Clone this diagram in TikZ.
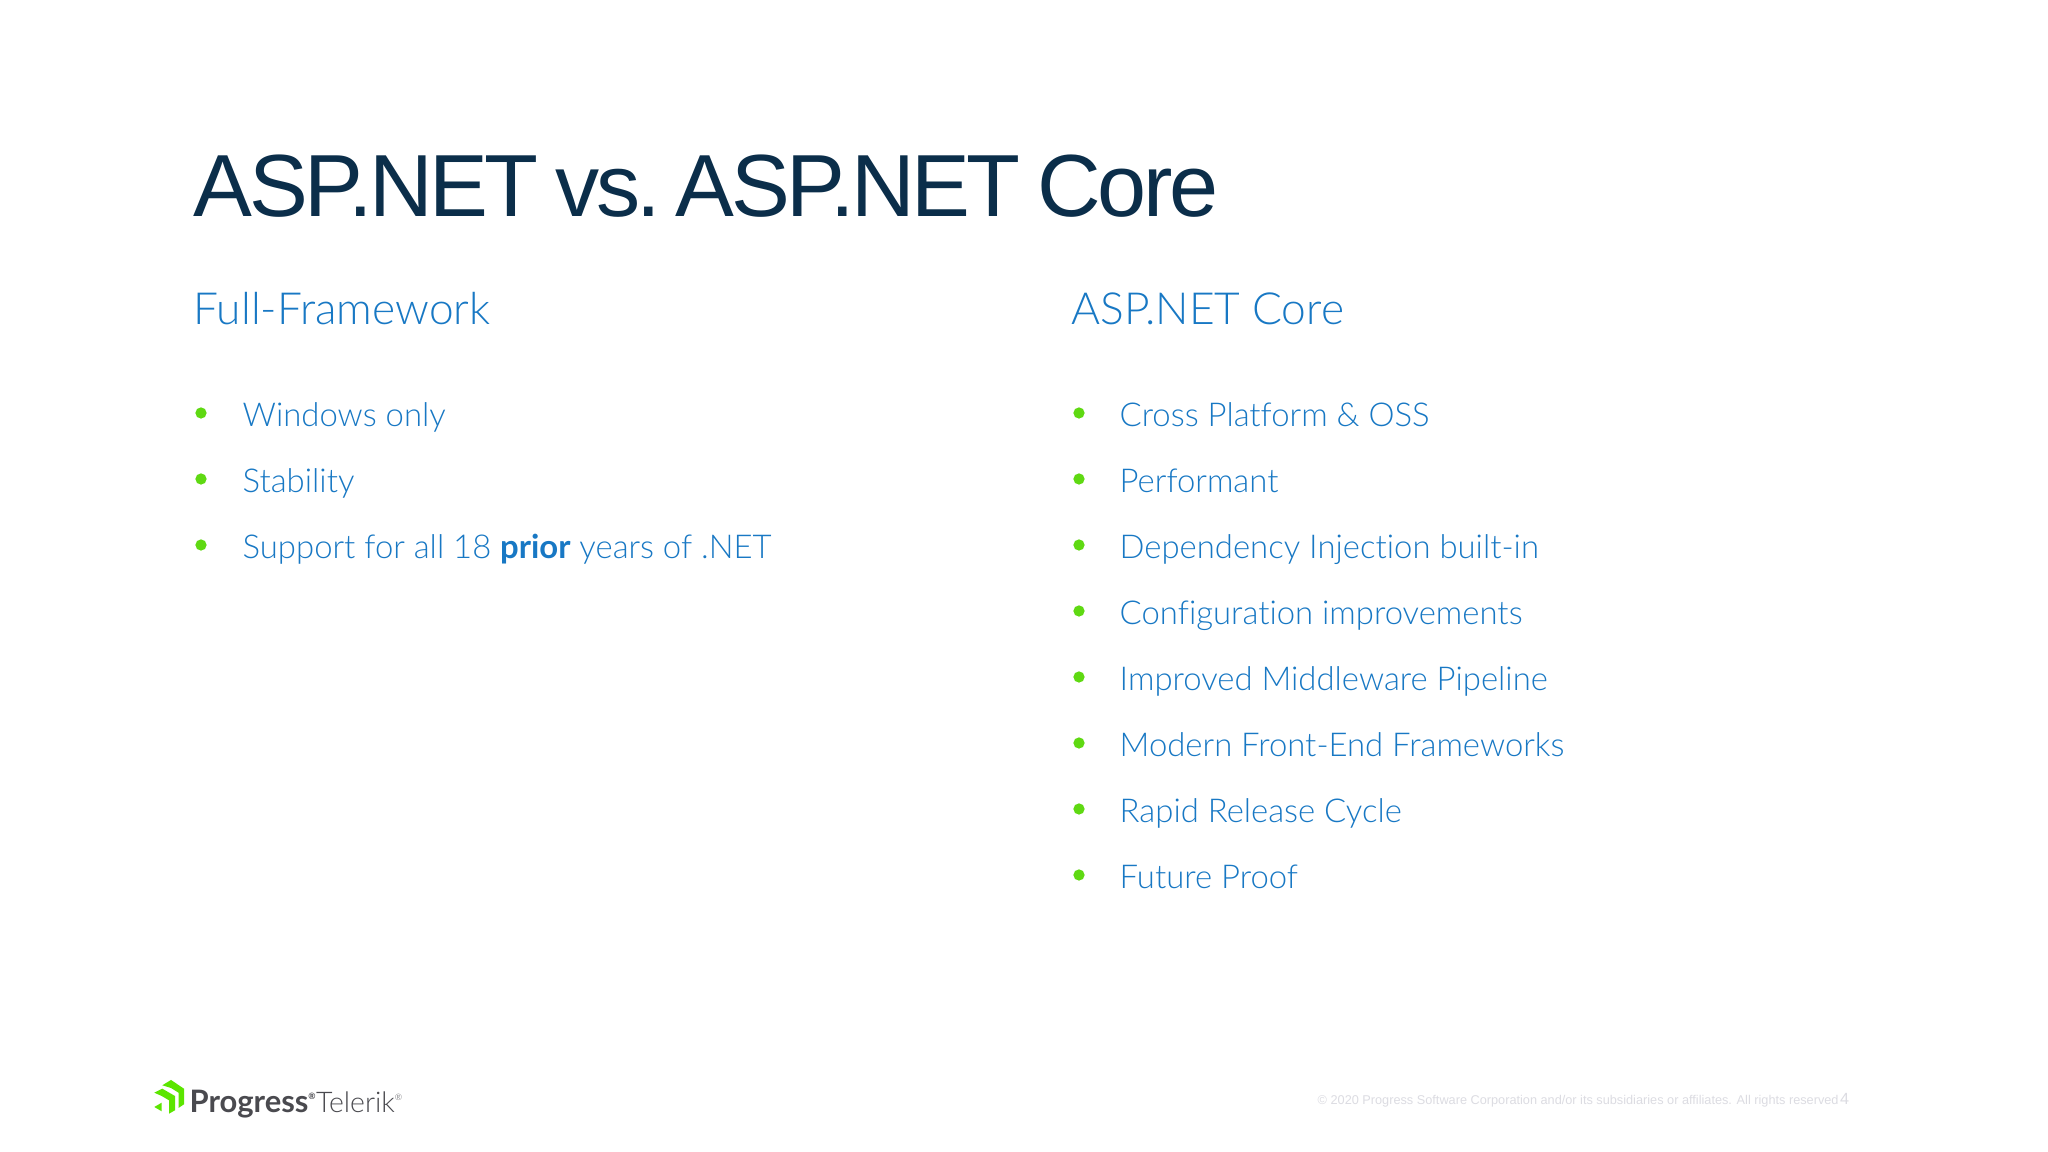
\documentclass[tikz,border=0pt]{standalone}
\usepackage{fontspec}
\setmainfont{Lato Light}[BoldFont=Lato Bold,Ligatures=NoCommon]
\newfontfamily\titlefont{Liberation Sans}[LetterSpace=-4,WordSpace=.8]
\newfontfamily\notefont{Liberation Sans}
\newfontfamily\progfont{Lato}[BoldFont=Lato Bold]
\usepackage{xcolor}
\usetikzlibrary{positioning}
\definecolor{titlecol}{HTML}{0B2E4A}
\definecolor{bodycol}{HTML}{1878C4}
\definecolor{bulletcol}{HTML}{5FD912}
\definecolor{logocol}{HTML}{5CE500}
\definecolor{logotext}{HTML}{4A4A4F}
\definecolor{notecol}{HTML}{DCDCE2}
\tikzset{
  headtxt/.style={anchor=base west,inner sep=0pt,text=bodycol,font=\fontsize{12.6pt}{15pt}\selectfont},
  itemtxt/.style={anchor=base west,inner sep=0pt,text=bodycol,font=\fontsize{9.35pt}{12pt}\selectfont},
  dot/.style={circle,fill=bulletcol,inner sep=0pt,minimum size=3.2pt}
}
\begin{document}
\begin{tikzpicture}
    \useasboundingbox(0,0)rectangle(20.48,11.52);
    \fill[white](0,0)rectangle(20.48,11.52);

    \node[anchor=base west,inner sep=0pt,text=titlecol,font=\fontsize{25.1pt}{30pt}\titlefont](title)at(1.93,9.35){ASP.NET vs.\kern-2.6pt{} ASP.NET Core};
    \node[headtxt](headl)at(1.93,8.27){Full-Framework};
    \node[headtxt](headr)at(10.71,8.27){ASP.NET Core};

    %left column
    \foreach\n/\y/\t in{1/7.25/Windows only,2/6.59/Stability,3/5.93/Support for all 18 \textbf{prior} years of .NET}{
        \node[dot](bl\n)at(2.01,\y+.14){};
        \node[itemtxt](il\n)at(2.42,\y){\t};
    }
    %right column
    \foreach\n/\y/\t in{1/7.25/Cross Platform \& OSS,2/6.59/Performant,3/5.93/Dependency Injection built-in,4/5.27/Configuration improvements,5/4.61/Improved Middleware Pipeline,6/3.95/Modern Front-End Frameworks,7/3.29/Rapid Release Cycle,8/2.63/Future Proof}{
        \node[dot](br\n)at(10.79,\y+.14){};
        \node[itemtxt](ir\n)at(11.19,\y){\t};
    }

    %logo
    \fill[logocol](1.623,.667)--(1.71,.72)--(1.84,.633)--(1.84,.477)--(1.785,.44)--(1.785,.593)--(1.71,.64)--cycle;
    \fill[logocol](1.543,.593)--(1.623,.633)--(1.75,.56)--(1.75,.417)--(1.69,.383)--(1.69,.517)--(1.617,.56)--cycle;
    \fill[logocol](1.543,.45)--(1.617,.493)--(1.617,.407)--cycle;

    \node[anchor=base west,inner sep=0pt,text=logotext,font=\fontsize{8.8pt}{10pt}\progfont\bfseries](prog)at(1.89,.39){Progress\raisebox{.45em}{\fontsize{2.5pt}{3pt}\selectfont\textregistered}};
    \node[inner sep=0pt,text=logotext,font=\fontsize{8.1pt}{10pt}\selectfont,right=-.01 of prog.base east,anchor=base west](tel){Telerik\raisebox{.45em}{\fontsize{2.5pt}{3pt}\selectfont\textregistered}};

    \node[anchor=base west,inner sep=0pt,text=notecol,font=\fontsize{3.62pt}{5pt}\notefont](note)at(13.17,.475){\textcopyright{} 2020 Progress Software Corporation and/or its subsidiaries or affiliates. All rights reserved};
    \node[inner sep=0pt,text=notecol,font=\fontsize{4.6pt}{5pt}\notefont,right=0pt of note.base east,anchor=base west](pagenum){4};
\end{tikzpicture}
\end{document}
